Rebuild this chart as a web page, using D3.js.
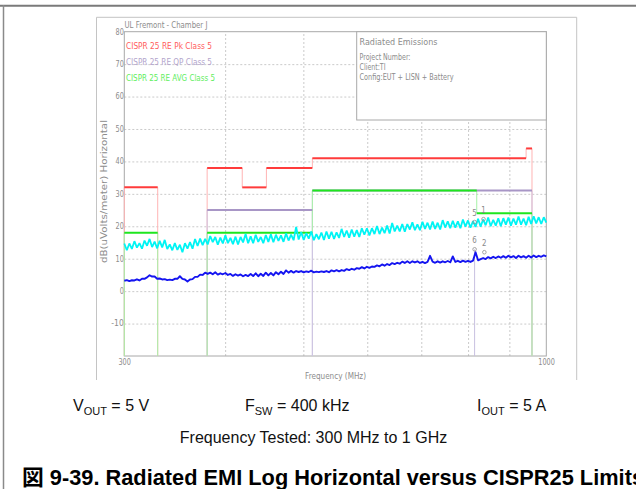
<!DOCTYPE html>
<html><head><meta charset="utf-8">
<script src="https://cdn.jsdelivr.net/npm/d3@7"></script>
<style>body{margin:0;background:#fff}svg{display:block}</style>
</head><body><svg id="c" width="636" height="489"></svg>
<script>
// ---------- data ----------
const yTicks = [80, 70, 60, 50, 40, 30, 20, 10, 0, -10];
const yGrid = [70, 60, 50, 40, 30, 20, 10, 0, -10];
const xGrid = [400, 500, 600, 700, 800, 900];
const xTickLabels = [300, 1000];
const sweepStart = 300, sweepStop = 1000;
// peak detector trace (cyan), dBuV/m, sweep points 300 MHz -> 1 GHz
const peakDb = [
14.7,12.6,14.7,13.0,15.4,13.4,14.8,13.1,15.6,14.0,
16.1,13.6,15.3,13.2,15.5,13.5,15.8,13.0,14.4,12.6,
14.8,12.7,14.3,12.0,14.8,13.1,15.1,13.1,16.1,13.9,
16.2,14.2,16.1,14.4,17.0,15.1,16.7,14.3,16.5,14.7,
17.2,14.8,16.4,14.5,16.8,14.4,16.7,15.0,17.6,14.8,
16.9,14.8,17.4,15.2,16.7,14.8,17.3,15.2,17.5,15.1,
17.4,15.5,17.2,15.2,17.8,15.6,17.4,15.7,19.8,15.9,
18.2,15.8,17.9,16.2,18.4,15.7,17.6,16.0,18.1,15.8,
18.4,16.2,18.3,16.1,18.1,16.4,19.2,16.7,18.7,16.5,
19.0,16.8,18.8,16.7,19.4,17.4,19.4,17.2,19.4,17.6,
20.1,17.6,19.6,17.9,20.2,17.8,21.0,18.4,20.2,18.4,
20.7,18.3,20.7,19.0,21.2,18.8,20.6,18.8,21.4,19.2,
21.1,19.0,21.5,19.2,21.1,19.0,21.9,19.6,21.5,19.4,
21.7,19.6,21.5,19.4,22.1,19.9,21.8,19.6,21.6,19.8,
22.3,19.9,22.1,20.3,22.7,20.0,22.0,20.2,22.5,20.0,
22.5,20.5,22.7,20.2,22.4,20.5,23.0,20.5,22.4,20.3,
22.9,20.7,23.1,20.9,22.8,20.7,22.8,21.1];
// average detector trace (blue)
const avgDb = [
3.2,3.4,3.1,3.35,3.3,3.65,3.3,3.8,3.8,4.25,
4.9,4.5,4.5,3.8,3.9,3.6,3.7,3.4,3.55,3.4,
3.8,3.8,4.6,3.8,3.6,3.0,3.6,3.7,4.4,4.4,
5.1,5.0,5.7,5.3,5.7,5.2,5.8,5.1,5.5,5.2,
5.6,5.0,5.3,4.7,5.2,4.8,5.15,4.6,5.0,4.65,
5.3,4.65,5.5,4.6,5.35,4.7,5.7,4.85,5.6,4.85,
5.85,5.2,6.0,5.3,6.4,5.7,6.25,5.7,6.2,5.9,
6.2,5.8,6.1,5.9,6.3,5.8,6.0,5.85,6.1,5.9,
6.2,5.85,6.4,6.1,6.45,6.1,6.5,6.25,6.8,6.5,
6.9,6.6,7.1,6.9,7.4,7.0,7.5,7.2,7.6,7.5,
7.95,7.65,8.25,7.85,8.35,8.05,8.65,8.35,8.75,8.45,
9.1,8.7,9.2,8.7,9.2,8.85,9.2,8.7,9.05,8.65,
9.0,10.9,9.1,8.75,9.2,8.8,9.2,8.9,9.3,8.9,
10.7,9.0,9.3,8.95,9.4,9.05,9.35,9.0,9.4,12.0,
9.5,9.9,10.2,9.9,10.5,10.1,10.6,10.2,10.7,10.3,
10.8,10.3,10.9,10.4,10.8,10.2,10.9,10.4,10.8,10.3,
10.9,10.4,11.0,10.5,10.9,10.6,11.0,10.7];
// limit bands: [startMHz, endMHz, dBuV/m]
const pkBands = [[[300,330,32]], [[380,420,38],[420,450,32],[450,513,38],[513,944,41],[944,960,44]]];
const qpBands = [[[380,513,25]], [[513,960,31]]];
const avBands = [[[300,330,18]], [[380,513,18],[513,820,31],[820,960,24]]];
const legendNames = ["CISPR 25 RE Pk Class 5", "CISPR 25 RE QP Class 5", "CISPR 25 RE AVG Class 5"];
const markerIds = ["5", "1", "6", "2"];
const markerFreq = [815, 836, 815, 838];
const markerDb = [21.3, 22.2, 12.9, 12.0];
const infoLines = ["Radiated Emissions", "Project Number:", "Client:TI", "Config:EUT + LISN + Battery"];

// ---------- drawing ----------
const svg = d3.select("#c");
const L = 124.3, R = 546.3, T = 31.7, B = 356;
const x = d3.scaleLog().domain([sweepStart, sweepStop]).range([L, R]);
const y = d3.scaleLinear().domain([-20, 80]).range([B, T]);
const plotFont = "DejaVu Sans, sans-serif";
const gray = "#8c8c8c";

// outer frames
svg.append("line").attr("x1",0).attr("x2",636).attr("y1",5.7).attr("y2",5.7).attr("stroke","#7a7a7a").attr("stroke-width",2);
svg.append("line").attr("x1",3.5).attr("x2",3.5).attr("y1",5).attr("y2",489).attr("stroke","#8a8a8a").attr("stroke-width",1.5);
svg.append("path").attr("d","M96.5,380V17.3H576.7V380").attr("fill","none").attr("stroke","#c4c4c4").attr("stroke-width",1);

// grid via axes
const gy = svg.append("g").attr("transform",`translate(${L},0)`)
  .call(d3.axisLeft(y).tickValues(yGrid).tickSize(-(R-L)).tickFormat(""));
const gx = svg.append("g").attr("transform",`translate(0,${B})`)
  .call(d3.axisBottom(x).tickValues(xGrid).tickSize(-(B-T)).tickFormat(""));
[gy, gx].forEach(g => {
  g.select(".domain").remove();
  g.selectAll("line").attr("stroke","#bdbdbd").attr("stroke-dasharray","2,2").attr("stroke-width",0.8);
});

// plot border
svg.append("rect").attr("x",L).attr("y",T).attr("width",R-L).attr("height",B-T)
  .attr("fill","none").attr("stroke","#a8a8a8").attr("stroke-width",1);

// info box
svg.append("rect").attr("x",356.7).attr("y",T).attr("width",R-356.7).attr("height",88.3)
  .attr("fill","#fff").attr("stroke","#a8a8a8").attr("stroke-width",1);

function ptxt(str, px, py, w, opt = {}) {
  const t = svg.append("text").attr("x", px).attr("y", py).text(str)
    .attr("font-family", plotFont).attr("font-size", opt.size || 8)
    .attr("fill", opt.fill || gray)
    .attr("text-anchor", opt.anchor || "start");
  if (w) t.attr("textLength", w).attr("lengthAdjust", "spacingAndGlyphs");
  if (opt.rotate) t.attr("transform", `rotate(-90,${px},${py})`);
  return t;
}

// y tick labels
yTicks.forEach(v => ptxt(String(v), L - 0.5, y(v) + 2.8, String(v).length * 4.15, {anchor: "end"}));
// x tick labels
xTickLabels.forEach(v => ptxt(String(v), x(v) + 0.3, 365, String(v).length * 4.15, {anchor: "middle"}));

ptxt("UL Fremont - Chamber J", 124.5, 28, 83);
const legendColors = ["#ff5c5c", "#b2a4cc", "#5eee5e"];
const legendY = [49, 64.5, 81];
const legendW = [86, 86, 89];
legendNames.forEach((n, i) => ptxt(n, 126, legendY[i], legendW[i], {fill: legendColors[i]}));

const infoY = [45, 60, 69.5, 79.5];
const infoW = [78, 51, 26, 94];
infoLines.forEach((s, i) => ptxt(s, 359.5, infoY[i], infoW[i]));

ptxt("Frequency (MHz)", 335.5, 378.5, 61, {anchor: "middle"});
ptxt("dB(uVolts/meter) Horizontal", 106.5, 191.5, 143, {anchor: "middle", rotate: true});

// limit lines
const limits = [
  {bands: pkBands, h: "#ff3b3b", v: "#ffb4b4"},
  {bands: qpBands, h: "#a896c6", v: "#cdc4e2"},
  {bands: avBands, h: "#1ee61e", v: "#a6f2a6"}
];
function bandPoints(band) {
  const pts = [[band[0][0], -20]];
  band.forEach(s => { pts.push([s[0], s[2]]); pts.push([s[1], s[2]]); });
  pts.push([band[band.length - 1][1], -20]);
  return pts;
}
const gv = svg.append("g"), gh = svg.append("g");
limits.forEach(lim => {
  lim.bands.forEach(band => {
    const pts = bandPoints(band);
    for (let k = 0; k < pts.length - 1; k++) {
      const a = pts[k], b = pts[k + 1];
      if (a[0] === b[0]) {
        gv.append("line").attr("x1", x(a[0])).attr("x2", x(b[0])).attr("y1", y(a[1])).attr("y2", y(b[1]))
          .attr("stroke", lim.v).attr("stroke-width", 1);
      } else {
        gh.append("line").attr("x1", x(a[0])).attr("x2", x(b[0])).attr("y1", y(a[1])).attr("y2", y(b[1]))
          .attr("stroke", lim.h).attr("stroke-width", 2);
      }
    }
  });
});

// marker line for marker 6
svg.append("line").attr("x1", x(markerFreq[2])).attr("x2", x(markerFreq[2]))
  .attr("y1", y(markerDb[2])).attr("y2", y(-20)).attr("stroke", "#c8c0e0").attr("stroke-width", 1);

// traces
const N = peakDb.length;
const sweep = d3.range(N).map(i => sweepStart * Math.pow(sweepStop / sweepStart, i / (N - 1)));
const line = d3.line().x((d, i) => x(sweep[i])).y(d => y(d));
svg.append("path").datum(peakDb).attr("d", line).attr("fill", "none")
  .attr("stroke", "#00f4f4").attr("stroke-width", 1.8).attr("stroke-linejoin", "bevel");
svg.append("path").datum(avgDb).attr("d", line).attr("fill", "none")
  .attr("stroke", "#1414f0").attr("stroke-width", 1.9).attr("stroke-linejoin", "round");

// markers
markerIds.forEach((id, i) => {
  const mx = x(markerFreq[i]), my = y(markerDb[i]);
  svg.append("circle").attr("cx", mx).attr("cy", my).attr("r", 1.8).attr("fill", "none")
    .attr("stroke", "#909090").attr("stroke-width", 0.8);
  ptxt(id, mx, my - 6.5, 4.5, {anchor: "middle", size: 9, fill: "#8a8a8a"});
});

// ---------- text under the chart ----------
const sans = "Liberation Sans, Arial, sans-serif";
function condText(parts, px, py) {
  const t = svg.append("text").attr("x", px).attr("y", py).attr("font-family", sans)
    .attr("font-size", 16).attr("fill", "#111");
  t.append("tspan").text(parts[0]);
  t.append("tspan").text(parts[1]).attr("font-size", 11).attr("dy", 3.5);
  t.append("tspan").text(parts[2]).attr("dy", -3.5);
}
condText(["V", "OUT", " = 5 V"], 73, 411);
condText(["F", "SW", " = 400 kHz"], 245, 411);
condText(["I", "OUT", " = 5 A"], 477, 411);
svg.append("text").attr("x", 313.5).attr("y", 443).attr("text-anchor", "middle")
  .attr("font-family", sans).attr("font-size", 16).attr("fill", "#111")
  .text("Frequency Tested: 300 MHz to 1 GHz");
svg.append("text").attr("x", 22).attr("y", 485)
  .attr("font-family", "Liberation Sans, Arial, Noto Sans CJK JP, sans-serif")
  .attr("font-size", 21.5).attr("font-weight", "bold").attr("fill", "#000")
  .attr("textLength", 622).attr("lengthAdjust", "spacingAndGlyphs")
  .text("図 9-39. Radiated EMI Log Horizontal versus CISPR25 Limits");
</script></body></html>
